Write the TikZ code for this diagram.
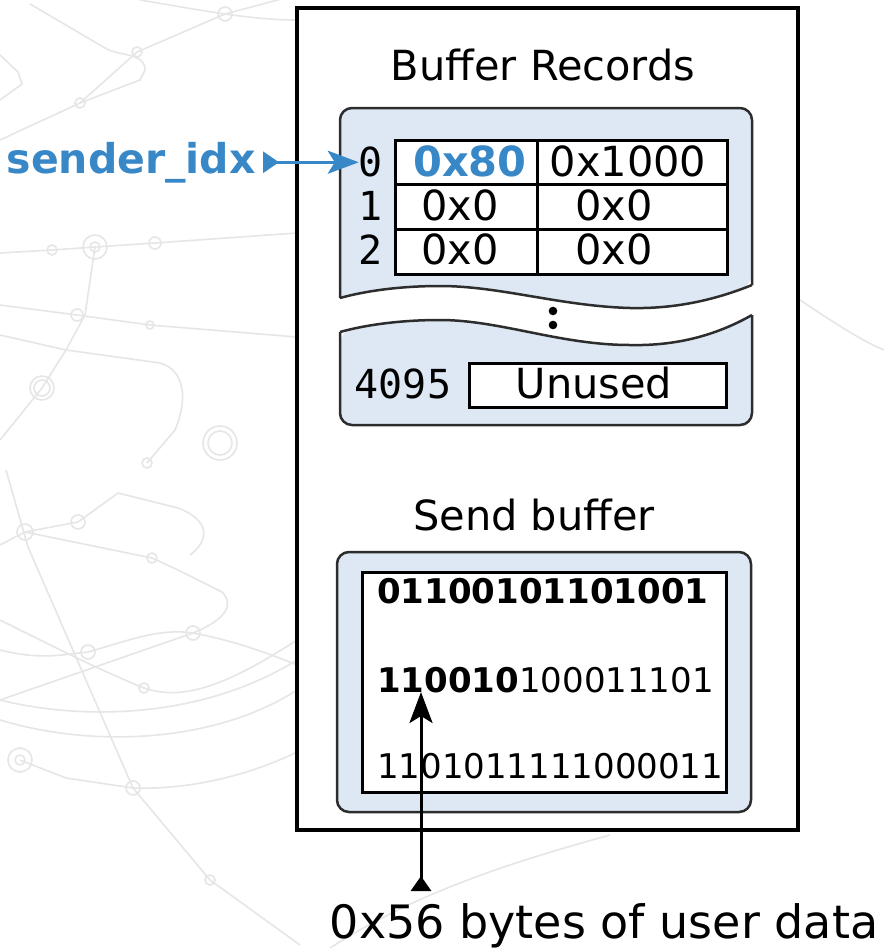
\documentclass[tikz,border=0pt]{standalone}
\usepackage{fontspec}
\setmainfont{DejaVu Sans}
\newfontfamily\idxfont{DejaVu Sans Mono}
\usetikzlibrary{arrows.meta}

\definecolor{idxblue}{RGB}{56,136,200}
\definecolor{panelfill}{RGB}{221,232,244}
\definecolor{panelline}{RGB}{45,45,45}
\definecolor{netgray}{RGB}{230,230,230}

\tikzset{
  txt/.style={font=\fontsize{41.5}{50}\selectfont, inner sep=0, anchor=base},
  idx/.style={font=\idxfont\fontsize{40}{48}\selectfont, inner sep=0, anchor=base},
  bits/.style={font=\fontsize{34}{40}\selectfont, inner sep=0, anchor=base west},
  cellbox/.style={draw=black, line width=3, fill=white},
  panelrim/.style={draw=panelline, line width=2.5},
  netline/.style={draw=netgray, line width=1.6},
  netdot/.style={draw=netgray, line width=1.6, fill=white},
  ptr/.style={line width=3, {Triangle[reversed,length=16pt,width=21pt]}-{Stealth[length=31pt,width=23pt,inset=7pt]}},
}

\begin{document}
\begin{tikzpicture}[x=1pt,y=-1pt]
\useasboundingbox (0,0) rectangle (884,948);
\fill[white] (0,0) rectangle (884,948);

% faint network pattern in the background
\begin{scope}[netline]
  \draw (30,4) -- (105,48) to[out=-30,in=90] (145,70) -- (140,80) -- (80,103) -- (0,140);
  \draw (80,103) -- (137,52) -- (225,14) -- (300,-6);
  \draw (0,55) -- (18,72) -- (22,84) -- (0,100);
  \draw (0,253) -- (52,250) -- (95,247) -- (155,243) -- (297,233);
  \draw (95,247) -- (85,315) -- (66,350) -- (42,388) -- (0,440);
  \draw (0,305) -- (77,315) -- (150,325) -- (297,337);
  \draw (0,335) -- (66,350) -- (160,363) .. controls (185,370) and (188,400) .. (175,430) -- (147,463);
  \draw (6,470) -- (28,547) -- (133,788) -- (210,880) -- (300,945);
  \draw (0,545) -- (25,532) -- (78,522) -- (118,493) -- (178,508) .. controls (210,520) and (210,540) .. (190,555);
  \draw (25,532) -- (152,558) -- (178,570) -- (222,592) .. controls (235,605) and (225,620) .. (193,633) -- (0,700);
  \draw (0,650) .. controls (40,660) and (60,655) .. (88,652) .. controls (130,640) and (160,628) .. (193,633) .. controls (230,640) and (260,650) .. (297,665);
  \draw (0,620) .. controls (60,650) and (100,670) .. (144,688) .. controls (180,700) and (220,690) .. (297,640);
  \draw (0,700) .. controls (80,720) and (200,720) .. (297,660);
  \draw (0,720) .. controls (100,750) and (220,740) .. (297,690);
  \draw (20,760) -- (66,778) -- (133,788) .. controls (190,790) and (250,775) .. (297,752);
  \draw (330,948) .. controls (420,890) and (520,860) .. (610,835);
  \draw (140,0) .. controls (200,10) and (250,20) .. (297,20);
  \draw (800,300) .. controls (830,320) and (860,340) .. (884,350);
\end{scope}
\begin{scope}[netdot]
  \draw (225,14) circle[radius=7];
  \draw (137,52) circle[radius=5];
  \draw (80,103) circle[radius=5];
  \draw (52,250) circle[radius=5];
  \draw (95,247) circle[radius=12];
  \draw (95,247) circle[radius=5];
  \draw (155,243) circle[radius=6];
  \draw (77,315) circle[radius=6];
  \draw (150,325) circle[radius=4];
  \draw (42,388) circle[radius=12];
  \draw (42,388) circle[radius=8];
  \draw (147,463) circle[radius=5];
  \draw (220,443) circle[radius=17];
  \draw (220,443) circle[radius=12];
  \draw (25,532) circle[radius=8];
  \draw (78,522) circle[radius=7];
  \draw (152,558) circle[radius=5];
  \draw (193,633) circle[radius=7];
  \draw (88,652) circle[radius=7];
  \draw (144,688) circle[radius=5];
  \draw (20,760) circle[radius=12];
  \draw (20,760) circle[radius=5];
  \draw (133,788) circle[radius=7];
  \draw (210,880) circle[radius=5];
\end{scope}

% outer frame
\draw[line width=3.5, fill=white] (297,8) rectangle (798,830);

% buffer records: upper part with wavy bottom edge
\node[txt] (brtitle) at (543,80) {Buffer Records};
\fill[panelfill] (340,298) [rounded corners=12] -- (340,108) -- (752,108) -- (752,285)
  [sharp corners] .. controls (715,300) and (675,309) .. (630,308)
  .. controls (560,306) and (500,286) .. (440,286)
  .. controls (400,286) and (365,291) .. (340,298) -- cycle;
\draw[panelrim] (340,298) [rounded corners=12] -- (340,108) -- (752,108) -- (752,285);
\draw[panelrim] (752,285) .. controls (715,300) and (675,309) .. (630,308)
  .. controls (560,306) and (500,286) .. (440,286)
  .. controls (400,286) and (365,291) .. (340,298);

% buffer records: lower part with wavy top edge
\fill[panelfill] (752,315) [rounded corners=12] -- (752,425) -- (340,425) -- (340,332)
  [sharp corners] .. controls (365,325) and (400,320) .. (440,320)
  .. controls (500,320) and (560,345) .. (630,345)
  .. controls (675,346) and (715,336) .. (752,315) -- cycle;
\draw[panelrim] (752,315) [rounded corners=12] -- (752,425) -- (340,425) -- (340,332);
\draw[panelrim] (340,332) .. controls (365,325) and (400,320) .. (440,320)
  .. controls (500,320) and (560,345) .. (630,345)
  .. controls (675,346) and (715,336) .. (752,315);

% ellipsis between the two parts
\fill (553,311) circle[radius=4.3];
\fill (553,325) circle[radius=4.3];

% record table
\draw[cellbox] (395,140) rectangle (537,184);
\draw[cellbox] (537,140) rectangle (727,184);
\draw[cellbox] (395,184) rectangle (537,229);
\draw[cellbox] (537,184) rectangle (727,229);
\draw[cellbox] (395,229) rectangle (537,274);
\draw[cellbox] (537,229) rectangle (727,274);

\node[idx] (i0) at (371,176) {0};
\node[idx] (i1) at (371,220) {1};
\node[idx] (i2) at (371,264) {2};

\node[txt, font=\bfseries\fontsize{41.5}{50}\selectfont, text=idxblue] (r0a) at (470,176) {0x80};
\node[txt] (r0b) at (628,176) {0x1000};
\node[txt] (r1a) at (460,220) {0x0};
\node[txt] (r1b) at (614,220) {0x0};
\node[txt] (r2a) at (460,264) {0x0};
\node[txt] (r2b) at (614,264) {0x0};

\node[idx] (i4095) at (403,398) {4095};
\draw[cellbox] (469,363) rectangle (726,407);
\node[txt] (unused) at (594,398) {Unused};

% sender index pointer
\node[txt, anchor=base east, font=\bfseries\fontsize{41}{50}\selectfont, text=idxblue] (sender) at (256,173) {sender\_idx};
\draw[ptr, idxblue] ([xshift=7]sender.east) -- (sender.east -| i0.west);

% send buffer
\node[txt] (sbtitle) at (534,530) {Send buffer};
\draw[panelrim, fill=panelfill, rounded corners=12] (337,552) rectangle (751,812);
\draw[line width=3, fill=white] (362,572) rectangle (726,792);
\node[bits] (b1) at (377,603) {\bfseries 01100101101001};
\node[bits] (b2) at (377,692) {{\bfseries 110010}100011101};
\node[bits] (b3) at (377,778) {1101011111000011};

% user data pointer
\coordinate (datafoot) at (421,891);
\coordinate (datatip) at (421,692);
\draw[ptr, black, {Triangle[reversed,length=15pt,width=20pt]}-{Stealth[length=31pt,width=23pt,inset=7pt]}] (datafoot) -- (datatip);
\node[txt, font=\fontsize{46}{54}\selectfont] (userdata) at (604,938) {0x56 bytes of user data};
\end{tikzpicture}
\end{document}
